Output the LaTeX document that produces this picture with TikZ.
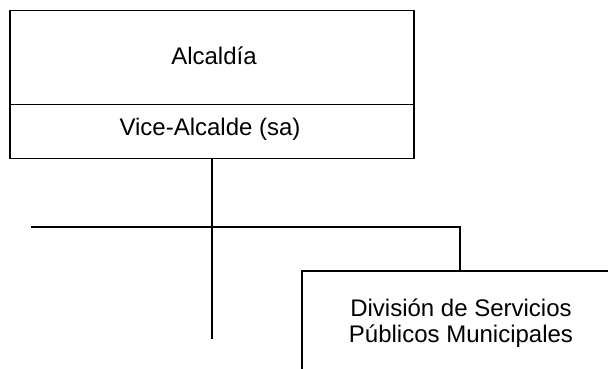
\documentclass[tikz,border=0pt]{standalone}
\usepackage{fontspec}
\setmainfont{Liberation Sans}
\begin{document}
\begin{tikzpicture}[x=1pt,y=-1pt,
  box/.style={draw, rectangle, inner sep=0pt, line width=1.6pt},
  lbl/.style={font=\fontsize{24}{26}\selectfont, inner sep=0pt, anchor=base, align=center},
  conn/.style={draw, line width=1.6pt}]
\useasboundingbox (0,0) rectangle (608,369);
\node[box, minimum width=404pt, minimum height=93.8pt] (alc) at (212,57.4) {};
\node[box, minimum width=404pt, minimum height=54pt] (vice) at (212,131.3) {};
\node[lbl] (alct) at (214,64.3) {Alcaldía};
\node[lbl] (vicet) at (210,135) {Vice-Alcalde (sa)};
\begin{scope}
\clip (0,0) rectangle (608,369);
\node[box, minimum width=318pt, minimum height=130pt] (div) at (461,336) {};
\end{scope}
\node[lbl] (divt) at (461,342.7) {División de Servicios\\Públicos Municipales};
\coordinate (end) at (212,339);
\coordinate (hl) at (31,227);
\coordinate (hr) at (460,227);
\draw[conn] (vice.south) -- (end);
\draw[conn] (hl) -- (hr) -- (hr |- div.north);
\end{tikzpicture}
\end{document}
